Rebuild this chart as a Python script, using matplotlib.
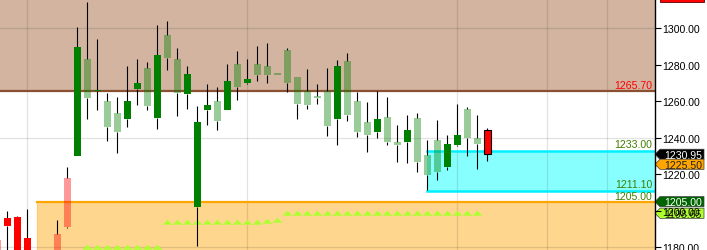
import numpy as np
import matplotlib
matplotlib.use('Agg')
import matplotlib.pyplot as plt
from matplotlib.patches import Polygon, Rectangle
from matplotlib.transforms import blended_transform_factory

plt.rcParams['font.family'] = ['Liberation Sans', 'DejaVu Sans']

nan = np.nan
# bar index, OHLC and body style
bars = list(range(-1, 49))
opens = [1184.1, 1196.1, 1196.6, 1185.1, nan, nan, 1187.3, 1218.0, 1230.0, 1261.8,
         1265.6, 1245.9, 1243.2, 1250.3, 1266.7, 1257.4, 1250.8, 1283.7, 1264.5, 1264.0,
         1202.1, 1255.2, 1249.2, 1255.2, 1267.8, 1270.0, 1274.4, 1274.4, 1275.0, 1270.0,
         1258.5, 1258.0, 1262.4, 1246.5, 1250.3, 1252.5, 1243.2, 1241.5, 1243.2, 1237.7,
         1236.0, 1237.7, 1226.7, 1219.6, 1221.3, 1224.0, 1236.0, 1239.9, 1236.6, 1244.3]
highs = [1184.1, 1199.9, 1197.2, 1201.0, nan, nan, 1195.0, 1224.0, 1300.7, 1314.4,
         1294.1, 1264.5, 1262.4, 1279.3, 1283.2, 1281.5, 1301.8, 1304.0, 1289.2, 1279.3,
         1257.4, 1269.5, 1267.8, 1280.4, 1287.6, 1283.2, 1290.3, 1291.9, 1275.0, 1289.2,
         1273.3, 1277.7, 1269.5, 1278.2, 1282.6, 1286.5, 1265.1, 1259.6, 1265.6, 1262.4,
         1247.0, 1252.5, 1253.6, 1238.8, 1249.7, 1241.5, 1258.5, 1256.9, 1252.5, 1245.4]
lows = [1168.0, 1168.0, 1165.0, 1165.0, nan, nan, 1168.0, 1190.6, 1230.0, 1250.3,
        1255.2, 1238.2, 1231.7, 1245.9, 1258.0, 1255.2, 1244.8, 1277.1, 1251.9, 1255.8,
        1180.7, 1247.0, 1244.3, 1255.2, 1260.7, 1269.5, 1271.1, 1270.0, 1275.0, 1265.1,
        1250.3, 1255.8, 1258.5, 1241.0, 1236.0, 1249.2, 1240.4, 1232.2, 1239.8, 1236.0,
        1226.7, 1226.1, 1221.3, 1211.4, 1216.8, 1222.4, 1235.5, 1230.0, 1222.9, 1227.3]
closes = [1172.0, 1191.7, 1172.0, 1172.0, nan, nan, 1172.0, 1191.1, 1289.8, 1283.2,
          1266.2, 1260.2, 1253.6, 1260.2, 1270.0, 1278.2, 1285.4, 1296.3, 1283.2, 1275.0,
          1248.7, 1258.0, 1260.2, 1271.1, 1280.4, 1272.2, 1280.4, 1279.3, 1275.0, 1288.1,
          1273.3, 1265.6, 1262.4, 1265.6, 1279.3, 1282.1, 1260.2, 1248.7, 1250.3, 1251.4,
          1237.7, 1244.3, 1250.8, 1230.6, 1238.8, 1236.6, 1241.5, 1255.8, 1239.9, 1230.95]
styles = ['pink', 'red', 'red', 'red', 'none', 'none', 'pink', 'pink', 'green', 'light',
          'green', 'light', 'light', 'green', 'green', 'light', 'green', 'light', 'light', 'green',
          'green', 'green', 'light', 'green', 'light', 'green', 'light', 'light', 'light', 'light',
          'light', 'light', 'light', 'light', 'green', 'light', 'light', 'light', 'green', 'light',
          'light', 'green', 'light', 'light', 'light', 'green', 'green', 'light', 'light', 'last']

# trailing-stop markers
stop_bars = list(range(8, 48))
stop_vals = [1180.0] * 8 + [1194.0] * 10 + [1194.4, 1195.0] + [1198.65] * 20

# zones and levels
upper_zone = 1265.70
box_top, box_bottom = 1233.00, 1211.10
lower_zone = 1205.00
grid_x = [2, 24, 45, 54, 60]
grid_y = [1180, 1240, 1300]
yticks = [1180, 1200, 1220, 1240, 1260, 1280, 1300]

tags = [(1230.95, '#000000', 'white'), (1225.50, '#FFA500', '#202020'),
        (1205.00, '#006400', 'white'), (1198.65, '#ADFF2F', '#202020')]

fig = plt.figure(figsize=(7.07, 2.51), dpi=100)
ax = fig.add_axes([0, 0, 655 / 707, 1])
x0, x1 = -0.73, 64.77
y0, y1 = 1178.52, 1316.05
ax.set_xlim(x0, x1)
ax.set_ylim(y0, y1)

# zones
ax.add_patch(Rectangle((x0 - 1, upper_zone), x1 - x0 + 2, 80, fc='#D2B4A0', ec='none', zorder=0.5))
ax.plot([x0 - 1, x1 + 1], [upper_zone, upper_zone], color='#8A5032', lw=1.6, zorder=0.9)
ax.add_patch(Rectangle((3, 1150), x1 - 3 + 1, lower_zone - 1150, fc='#FED68E', ec='#FFC870', lw=0.8, zorder=0.5))
ax.plot([3, x1 + 1], [lower_zone, lower_zone], color='#FFA500', lw=1.6, zorder=0.9)
ax.add_patch(Rectangle((42, box_bottom), x1 - 42 + 1, box_top - box_bottom, fc='#88FFFF', ec='none', zorder=0.5))
ax.plot([42, x1 + 1], [box_top, box_top], color='#00F0FF', lw=1.8, zorder=0.9)
ax.plot([42, x1 + 1], [box_bottom, box_bottom], color='#00F0FF', lw=1.8, zorder=0.9)

# grid
for gx in grid_x:
    ax.axvline(gx, color='black', alpha=0.11, lw=0.9, zorder=0.8)
for gy in grid_y:
    ax.axhline(gy, color='black', alpha=0.11, lw=0.9, zorder=0.8)

# stop markers
tri = [(-1, -0.45), (1, -0.45), (0, 0.55)]
ax.plot(stop_bars, stop_vals, linestyle='none', marker=tri, markersize=7,
        color='#ADFF2F', markeredgewidth=0, zorder=2)

# candles
for i, o, h, l, c, s in zip(bars, opens, highs, lows, closes, styles):
    if s == 'none' or np.isnan(o):
        continue
    lo, hi = min(o, c), max(o, c)
    if hi - lo < 0.7:
        m = (hi + lo) / 2
        lo, hi = m - 0.35, m + 0.35
    if h > hi:
        ax.plot([i, i], [hi, h], color='black', lw=0.8, zorder=3, solid_capstyle='butt')
    if l < lo:
        ax.plot([i, i], [l, lo], color='black', lw=0.8, zorder=3, solid_capstyle='butt')
    if s == 'green':
        kw = dict(color='#008000')
    elif s == 'light':
        kw = dict(color=(0, 0.5, 0, 0.4))
    elif s == 'red':
        kw = dict(color='#FF0000')
    elif s == 'pink':
        kw = dict(color=(1, 0, 0, 0.4))
    else:
        kw = dict(facecolor='#FF0000', edgecolor='black', linewidth=0.8)
    ax.bar(i, hi - lo, bottom=lo, width=0.7, zorder=4, **kw)

# level labels
tx = 652 / 655
trans = blended_transform_factory(ax.transAxes, ax.transData)
fs = 7.6
ax.text(tx, upper_zone + 0.6, f'{upper_zone:.2f}', transform=trans, ha='right', va='bottom',
        color='#FF0000', fontsize=fs, zorder=5)
for v in (box_top, box_bottom, lower_zone):
    ax.text(tx, v + 0.6, f'{v:.2f}', transform=trans, ha='right', va='bottom',
            color='#3F7F00', fontsize=fs, zorder=5)

# price tags on the right
h = 2.8
wa, wb = 5 / 655, 49 / 655
# clipped red tag at very top
ax.add_patch(Polygon([(1 + wa, 1314.4), (1 + wb, 1314.4), (1 + wb, 1322), (1 + wa, 1322)],
                     closed=True, transform=trans, fc='#FF0000', ec='#600000', lw=0.6,
                     clip_on=False, zorder=1))
for v, fc, tc in tags:
    ax.add_patch(Polygon([(1.0, v), (1 + wa, v + h), (1 + wb, v + h), (1 + wb, v - h), (1 + wa, v - h)],
                         closed=True, transform=trans, fc=fc, ec='#404040', lw=0.5,
                         clip_on=False, zorder=1))
    ax.text(1 + 9 / 655, v - 0.2, f'{v:.2f}', transform=trans, ha='left', va='center',
            color=tc, fontsize=fs, clip_on=False, zorder=1.2)

# axes styling
ax.set_xticks([])
ax.yaxis.tick_right()
ax.set_yticks(yticks)
ax.set_yticklabels([f'{t:.2f}' for t in yticks])
ax.tick_params(axis='y', direction='out', length=4, width=0.8, pad=1.5, labelsize=fs,
               colors='black')
for sp in ('top', 'left', 'bottom'):
    ax.spines[sp].set_visible(False)
ax.spines['right'].set_color('black')
ax.spines['right'].set_linewidth(1.0)
ax.set_facecolor('white')

fig.savefig('out.png', dpi=100)
